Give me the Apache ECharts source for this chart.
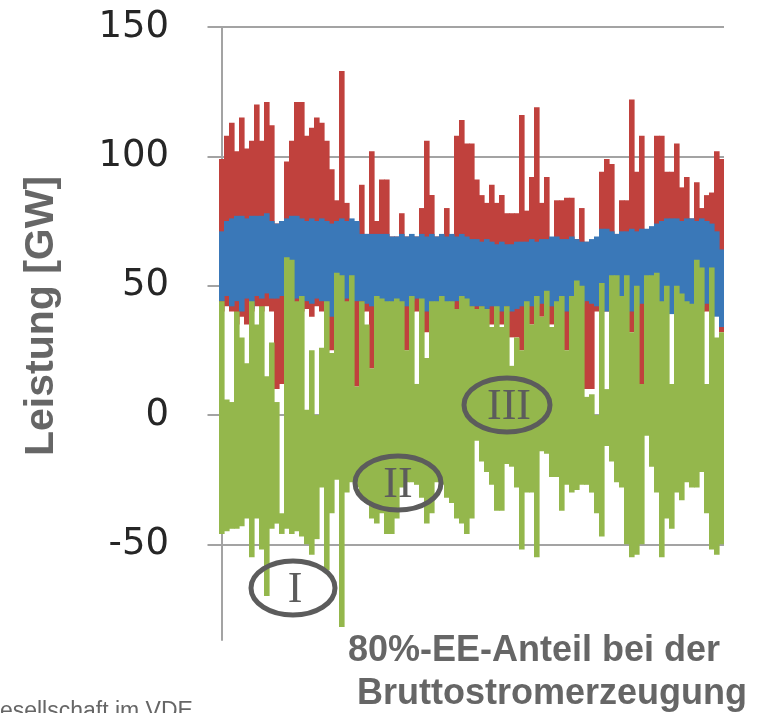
<!DOCTYPE html>
<html>
<head>
<meta charset="utf-8">
<script src="https://cdn.jsdelivr.net/npm/echarts@6/dist/echarts.min.js"></script>
<style>html,body{margin:0;padding:0;background:#fff;}#c{width:769px;height:713px;}</style>
</head>
<body>
<div id="c"></div>
<script>
// Tick labels of the y axis (GW)
const yTicks = [-50, 0, 50, 100, 150];

// Envelopes per time bucket (~3.5 days each), in GW
const redHigh = [99,108,113,102,115,103,106,120,106,121,112,74,74,98,106,121,121,
  108,111,115,113,106,95,83,133,82,74,74,89,70,102,75,91,91,
  69,69,78,69,69,69,80,106,85,69,69,80,69,108,114,105,105,
  91,85,82,89,82,85,78,78,78,116,79,92,119,82,92,68,83,
  83,84,84,68,80,67,67,67,94,99,97,70,83,83,122,94,108,
  71,71,108,108,94,94,105,88,92,76,90,80,85,86,102,99];
const redLow = [40,42,40,35,38,35,40,42,40,42,40,10,12,40,42,38,40,
  41,38,42,40,25,25,40,40,42,40,11,40,40,18,40,38,34,
  40,40,40,25,40,40,32,32,32,40,40,36,40,40,40,34,38,
  40,40,38,35,40,35,40,30,30,25,38,35,40,38,40,35,40,
  40,25,25,40,40,10,10,40,40,40,40,35,32,40,32,38,12,
  40,40,40,40,40,40,34,40,40,38,40,40,40,40,40,32];
const blueHigh = [71,75,76,77,77,76,77,77,77,78,75,74,75,76,77,77,76,
  75,76,75,76,75,74,75,76,75,76,75,70,70,70,70,70,70,
  69,69,70,69,70,69,70,69,70,69,70,69,70,69,70,69,68,
  68,67,68,67,66,67,66,66,67,67,67,68,67,68,68,69,69,
  68,68,69,68,67,67,68,69,72,72,71,70,71,71,72,71,72,
  72,73,74,75,76,76,76,75,76,76,75,76,75,74,71,64];
const blueLow = [44,46,42,44,40,45,41,46,45,47,45,45,46,45,44,45,46,
  44,43,45,44,42,38,42,44,45,46,44,44,43,42,44,44,43,
  43,44,43,42,44,45,42,40,41,43,44,42,43,44,43,42,42,
  42,42,41,42,41,40,42,40,41,42,43,42,42,43,44,42,43,
  42,40,41,42,43,44,43,42,43,40,41,42,43,42,40,42,43,
  44,43,44,41,40,39,41,42,43,41,40,42,43,42,38,34];
const greenHigh = [44,6,5,40,30,20,44,35,42,15,28,5,-38,61,60,44,46,
  2,25,0,26,44,24,55,54,44,54,11,44,35,18,46,45,44,
  44,45,44,25,46,12,45,22,44,44,46,44,44,41,46,45,42,
  41,42,41,34,42,34,42,19,30,25,44,35,46,38,48,34,44,
  46,25,46,52,50,7,8,0,51,10,54,54,46,54,32,50,12,
  54,54,55,44,50,12,50,47,44,43,60,57,12,57,30,32];
const greenLow = [-46,-45,-44,-44,-43,-40,-55,-40,-52,-70,-44,-42,-46,-44,-46,-45,-47,
  -50,-54,-48,-28,-60,-38,-25,-82,-30,-26,-28,-32,-34,-40,-42,-38,-46,
  -46,-40,-28,-26,-26,-27,-32,-42,-38,-26,-27,-32,-34,-40,-42,-46,-40,
  -10,-18,-22,-27,-37,-37,-19,-20,-28,-52,-30,-30,-55,-14,-15,-24,-24,
  -37,-27,-30,-29,-27,-27,-30,-38,-47,-12,-18,-26,-28,-50,-55,-54,-50,
  -8,-20,-30,-55,-40,-44,-30,-33,-26,-28,-28,-22,-38,-52,-54,-50];

const N = redHigh.length;
function build(lo, hi) { return lo.map(function (v, i) { return [i, v, hi[i]]; }); }

function band(name, lo, hi, color) {
  return {
    type: 'custom', name: name, data: build(lo, hi),
    encode: { x: 0, y: [1, 2] },
    silent: true, clip: true,
    renderItem: function (params, api) {
      const i = api.value(0);
      const a = api.coord([i - 0.5, api.value(2)]);
      const b = api.coord([i + 0.5, api.value(1)]);
      return { type: 'rect', shape: { x: a[0], y: a[1], width: b[0] - a[0] + 0.6, height: b[1] - a[1] },
               style: { fill: color } };
    }
  };
}

const chart = echarts.init(document.getElementById('c'), null, { renderer: 'canvas' });
const gridCol = '#a3a3a3';
const annCol = '#5c5c5c';
function ellipse(cx, cy, rx, ry) {
  return { type: 'ellipse', shape: { cx: cx, cy: cy, rx: rx, ry: ry }, z: 100,
           style: { fill: 'none', stroke: annCol, lineWidth: 5 } };
}
function roman(t, x, y) {
  return { type: 'text', x: x, y: y, z: 101,
           style: { text: t, fill: annCol, font: '44px "Liberation Serif", "DejaVu Serif", serif',
                    align: 'center', verticalAlign: 'middle' } };
}

chart.setOption({
  animation: false,
  backgroundColor: '#ffffff',
  grid: { left: 219, top: 27, width: 505, height: 613, containLabel: false },
  xAxis: { type: 'value', min: -0.5, max: N - 0.5, show: false },
  yAxis: {
    type: 'value', min: -87, max: 150,
    axisLine: { show: true, lineStyle: { color: gridCol, width: 2 } },
    axisTick: { show: true, inside: false, length: 14, customValues: yTicks,
                lineStyle: { color: gridCol, width: 2 } },
    axisLabel: { customValues: yTicks, margin: 50, fontFamily: 'DejaVu Sans', fontSize: 37, color: '#262626' },
    splitLine: { show: true, lineStyle: { color: gridCol, width: 2 } }
  },
  series: [
    band('Maximum', redLow, redHigh, '#c0413d'),
    band('Last', blueLow, blueHigh, '#3a78b8'),
    band('Residuallast', greenLow, greenHigh, '#94b74c')
  ],
  graphic: [
    { type: 'text', x: 42, y: 316, rotation: Math.PI / 2,
      style: { text: 'Leistung [GW]', fill: '#666666', font: 'bold 41px "Liberation Sans", Arial, sans-serif',
               align: 'center', verticalAlign: 'middle' } },
    { type: 'text', x: 534, y: 651,
      style: { text: '80%-EE-Anteil bei der', fill: '#666666', font: 'bold 36px "Liberation Sans", Arial, sans-serif',
               align: 'center', verticalAlign: 'middle' } },
    { type: 'text', x: 552, y: 694,
      style: { text: 'Bruttostromerzeugung', fill: '#666666', font: 'bold 36px "Liberation Sans", Arial, sans-serif',
               align: 'center', verticalAlign: 'middle' } },
    { type: 'text', x: -18, y: 700,
      style: { text: 'Gesellschaft im VDE', fill: '#666666', font: '23px "Liberation Sans", Arial, sans-serif',
               align: 'left', verticalAlign: 'top' } },
    ellipse(293, 588, 42, 27), roman('I', 295, 590),
    ellipse(398, 483, 43, 27), roman('II', 398, 485),
    ellipse(507, 405, 43, 27), roman('III', 509, 407)
  ]
});
</script>
</body>
</html>
